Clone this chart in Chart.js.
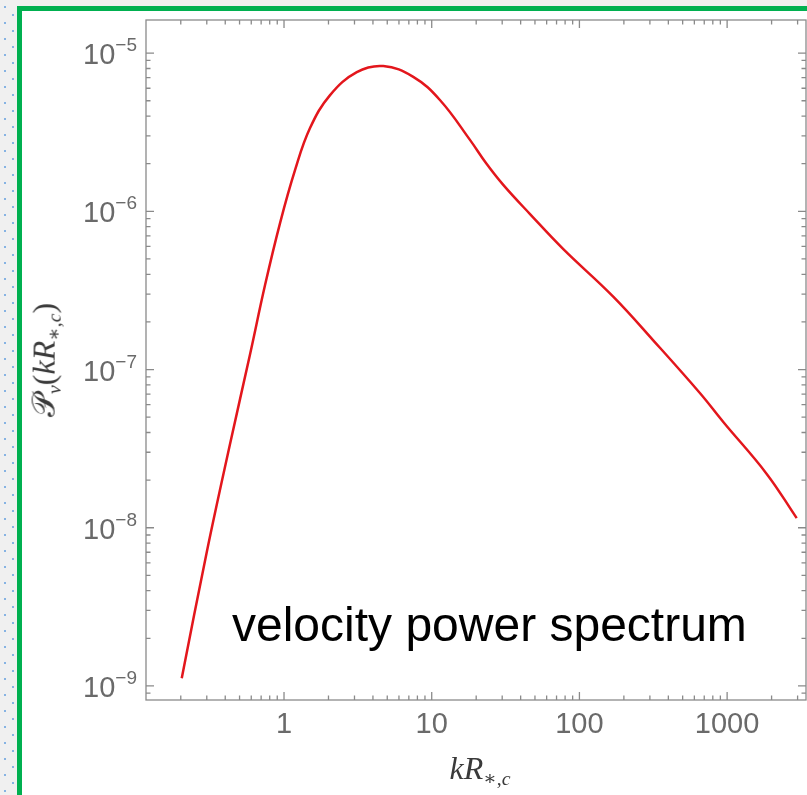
<!DOCTYPE html>
<html>
<head>
<meta charset="utf-8">
<script src="https://cdn.jsdelivr.net/npm/chart.js@4.4.1/dist/chart.umd.min.js"></script>
<style>
  html, body { margin: 0; padding: 0; }
  body { width: 807px; height: 795px; overflow: hidden; background: #f0f0f0; position: relative;
         font-family: 'Liberation Sans', Arial, sans-serif; }
  .dots { position: absolute; top: 0; width: 2px; height: 795px;
          background-image: linear-gradient(to bottom, #86b3e3 0, #86b3e3 2px, transparent 2px);
          background-size: 2px 16px; }
  #d1 { left: 4px; background-position: 0 6px; }
  #d2 { left: 12px; background-position: 0 14px; }
  #frame { position: absolute; left: 17px; top: 6px; width: 800px; height: 800px;
           border-left: 5px solid #00b050; border-top: 5px solid #00b050; background: #fff; }
  canvas { position: absolute; left: 0; top: 0; }
  .math { position: absolute; font-family: 'Liberation Serif', 'DejaVu Serif', serif; color: #3a3a3a;
          white-space: nowrap; font-size: 32px; line-height: 1; }
  .math i { font-style: italic; }
  .math sub { font-size: 62%; vertical-align: -0.3em; }
  #ylab { left: 46px; top: 360px; transform: translate(-50%, -50%) rotate(-90deg); }
  #xlab { left: 480px; top: 770px; transform: translate(-50%, -50%); }
  #note { position: absolute; left: 232px; top: 601px; font-size: 48px; line-height: 48px; color: #000;
          white-space: nowrap; }
</style>
</head>
<body>
<div class="dots" id="d1"></div>
<div class="dots" id="d2"></div>
<div id="frame"></div>
<canvas id="chart" width="807" height="795"></canvas>
<div class="math" id="ylab"><span>𝒫</span><sub><i>v</i></sub>(<i>kR</i><sub>∗,<i>c</i></sub>)</div>
<div class="math" id="xlab"><i>kR</i><sub>∗,<i>c</i></sub></div>
<div id="note">velocity power spectrum</div>
<script>
// velocity power spectrum P_v(kR_*,c)
const kValues = [0.203, 0.300, 0.431, 0.589, 0.744, 0.940, 1.187, 1.50, 2.05, 3.11, 4.70, 7.50,
                 11.4, 18.2, 23.3, 30.5, 46.3, 77.8, 170, 316, 656, 942, 1854, 2958];
const powerValues = [1.12e-9, 7.03e-9, 3.38e-8, 1.25e-7, 3.42e-7, 8.43e-7, 1.82e-6, 3.36e-6, 5.43e-6,
                     7.58e-6, 8.28e-6, 7.08e-6, 5.04e-6, 2.82e-6, 2.02e-6, 1.47e-6, 9.61e-7, 5.77e-7,
                     2.88e-7, 1.53e-7, 7.08e-8, 4.66e-8, 2.19e-8, 1.15e-8];

// axis ranges and labelled ticks
const xMin = 0.1163, xMax = 3420;
const yMin = 8.15e-10, yMax = 1.62e-5;
const xMajorTicks = [1, 10, 100, 1000];
const xTickLabels = ['1', '10', '100', '1000'];
const yMajorTicks = [1e-9, 1e-8, 1e-7, 1e-6, 1e-5];
const yTickExponents = ['−9', '−8', '−7', '−6', '−5'];

const fontFamily = "'Liberation Sans', Arial, sans-serif";
const tickColor = '#6a6a6a';

function logTicks(min, max) {
    const out = [];
    for (let e = Math.floor(Math.log10(min)); e <= Math.ceil(Math.log10(max)); e++) {
        for (let m = 1; m <= 9; m++) {
            const v = Number((m * Math.pow(10, e)).toPrecision(6));
            if (v >= min && v <= max) out.push({ value: v });
        }
    }
    return out;
}

const majorIndex = (v, majors) => majors.findIndex(m => Math.abs(Math.log10(m) - Math.log10(v)) < 1e-6);

function labelFor(v, majors, labels) {
    const i = majorIndex(v, majors);
    return i < 0 ? '' : labels[i];
}

// Mathematica style frame: box with inward ticks on all four sides, y labels as 10 with superscript
const frameTicks = {
    id: 'frameTicks',
    afterDatasetsDraw(chart) {
        const { ctx, chartArea: a, scales: { x, y } } = chart;
        ctx.save();
        ctx.strokeStyle = '#8a8a8a';
        ctx.lineWidth = 1.3;
        ctx.strokeRect(a.left, a.top, a.right - a.left, a.bottom - a.top);
        ctx.beginPath();
        x.ticks.forEach(t => {
            const px = x.getPixelForValue(t.value);
            const len = majorIndex(t.value, xMajorTicks) >= 0 ? 8 : 4.5;
            ctx.moveTo(px, a.bottom); ctx.lineTo(px, a.bottom - len);
            ctx.moveTo(px, a.top); ctx.lineTo(px, a.top + len);
        });
        y.ticks.forEach(t => {
            const py = y.getPixelForValue(t.value);
            const len = majorIndex(t.value, yMajorTicks) >= 0 ? 8 : 4.5;
            ctx.moveTo(a.left, py); ctx.lineTo(a.left + len, py);
            ctx.moveTo(a.right, py); ctx.lineTo(a.right - len, py);
        });
        ctx.stroke();

        ctx.fillStyle = tickColor;
        ctx.textAlign = 'left';
        ctx.textBaseline = 'alphabetic';
        yMajorTicks.forEach((v, i) => {
            const py = y.getPixelForValue(v);
            ctx.font = `29px ${fontFamily}`;
            const wBase = ctx.measureText('10').width;
            ctx.font = `19px ${fontFamily}`;
            const wExp = ctx.measureText(yTickExponents[i]).width;
            const x0 = a.left - 9 - wBase - wExp;
            ctx.font = `29px ${fontFamily}`;
            ctx.fillText('10', x0, py + 11);
            ctx.font = `19px ${fontFamily}`;
            ctx.fillText(yTickExponents[i], x0 + wBase, py - 2);
        });
        ctx.restore();
    }
};

new Chart(document.getElementById('chart').getContext('2d'), {
    type: 'scatter',
    data: {
        datasets: [{
            data: kValues.map((k, i) => ({ x: k, y: powerValues[i] })),
            showLine: true,
            borderColor: '#e3161c',
            borderWidth: 2.5,
            pointRadius: 0,
            tension: 0.4,
            fill: false
        }]
    },
    options: {
        responsive: false,
        animation: false,
        devicePixelRatio: 1,
        layout: { padding: { top: 20, right: 1, left: 0, bottom: 0 } },
        plugins: { legend: { display: false }, tooltip: { enabled: false } },
        scales: {
            x: {
                type: 'logarithmic', min: xMin, max: xMax,
                grid: { display: false, drawTicks: false },
                border: { display: false },
                afterBuildTicks: s => { s.ticks = logTicks(xMin, xMax); },
                afterFit: s => { s.height = 95; },
                ticks: { autoSkip: false, maxRotation: 0, padding: 8, color: tickColor,
                         font: { family: fontFamily, size: 29 },
                         callback: v => labelFor(v, xMajorTicks, xTickLabels) }
            },
            y: {
                type: 'logarithmic', min: yMin, max: yMax,
                grid: { display: false, drawTicks: false },
                border: { display: false },
                afterBuildTicks: s => { s.ticks = logTicks(yMin, yMax); },
                afterFit: s => { s.width = 146; },
                ticks: { display: false }
            }
        }
    },
    plugins: [frameTicks]
});
</script>
</body>
</html>
